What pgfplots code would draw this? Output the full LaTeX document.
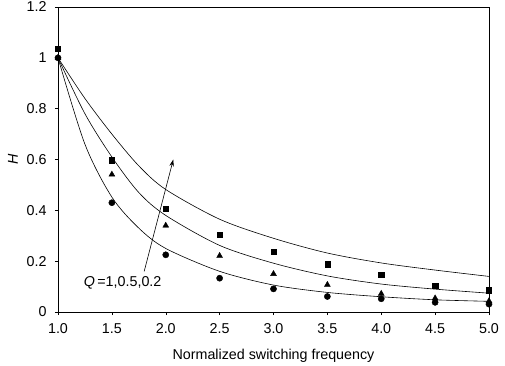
\documentclass[border=0pt]{standalone}
\usepackage{fontspec}
\setmainfont{Liberation Sans}
\usepackage{pgfplots}
\pgfplotsset{compat=1.18}
\usetikzlibrary{arrows.meta}
\begin{document}
\begin{tikzpicture}
\path[use as bounding box] (-58bp,-54bp) rectangle (447bp,312bp);
\begin{axis}[
  scale only axis,
  width=431bp, height=305bp,
  xmin=1, xmax=5, ymin=0, ymax=1.2,
  clip=false,
  axis line style={line width=0.9pt},
  xtick={1,1.5,2,2.5,3,3.5,4,4.5,5},
  xticklabels={1.0,1.5,2.0,2.5,3.0,3.5,4.0,4.5,5.0},
  ytick={0,0.2,0.4,0.6,0.8,1,1.2},
  yticklabels={0,0.2,0.4,0.6,0.8,1,1.2},
  tick align=outside,
  xtick pos=bottom, ytick pos=left,
  major tick length=3bp,
  tick style={black, line width=0.5pt},
  tick label style={font=\fontsize{14.3bp}{16bp}\selectfont},
  xticklabel style={yshift=-5bp},
  yticklabel style={xshift=-5bp},
  xlabel={Normalized switching frequency},
  ylabel={\textit{H}},
  label style={font=\fontsize{14.3bp}{16bp}\selectfont},
  xlabel style={yshift=-9bp},
  ylabel style={yshift=2bp},
]
% fitted curves
\addplot[black, line width=0.6pt, smooth, tension=0.5] coordinates {
(1,1) (1.25,0.84) (1.5,0.70) (1.75,0.575) (2,0.482) (2.5,0.365) (3,0.29) (3.5,0.232) (4,0.193) (4.5,0.165) (5,0.14)};
\addplot[black, line width=0.6pt, smooth, tension=0.5] coordinates {
(1,1) (1.25,0.78) (1.5,0.61) (1.75,0.47) (2,0.38) (2.5,0.262) (3,0.192) (3.5,0.142) (4,0.11) (4.5,0.09) (5,0.074)};
\addplot[black, line width=0.6pt, smooth, tension=0.5] coordinates {
(1,1) (1.25,0.66) (1.5,0.452) (1.75,0.33) (2,0.25) (2.5,0.16) (3,0.106) (3.5,0.077) (4,0.06) (4.5,0.048) (5,0.042)};
% data: squares
\addplot[only marks, mark=square*, mark size=2.6bp, black] coordinates {
(1,1.036) (1.5,0.597) (2,0.406) (2.5,0.303) (3,0.238) (3.5,0.188) (4,0.146) (4.5,0.103) (5,0.086)};
% triangles
\addplot[only marks, mark=triangle*, mark size=3.4bp, black] coordinates {
(1,1.0) (1.5,0.541) (2,0.34) (2.5,0.221) (3,0.15) (3.5,0.107) (4,0.072) (4.5,0.054) (5,0.043)};
% circles
\addplot[only marks, mark=*, mark size=3.1bp, black] coordinates {
(1,1.0) (1.5,0.43) (2,0.225) (2.5,0.133) (3,0.091) (3.5,0.061) (4,0.052) (4.5,0.038) (5,0.031)};
% arrow
\addplot[black, line width=0.6pt, -{Stealth[length=7bp,width=4.5bp]}] coordinates {(1.80,0.16) (2.07,0.60)};
\node[font=\fontsize{14.3bp}{16bp}\selectfont] at (axis cs:1.60,0.115) {\textit{Q}\,=1,0.5,0.2};
\end{axis}
\end{tikzpicture}
\end{document}
